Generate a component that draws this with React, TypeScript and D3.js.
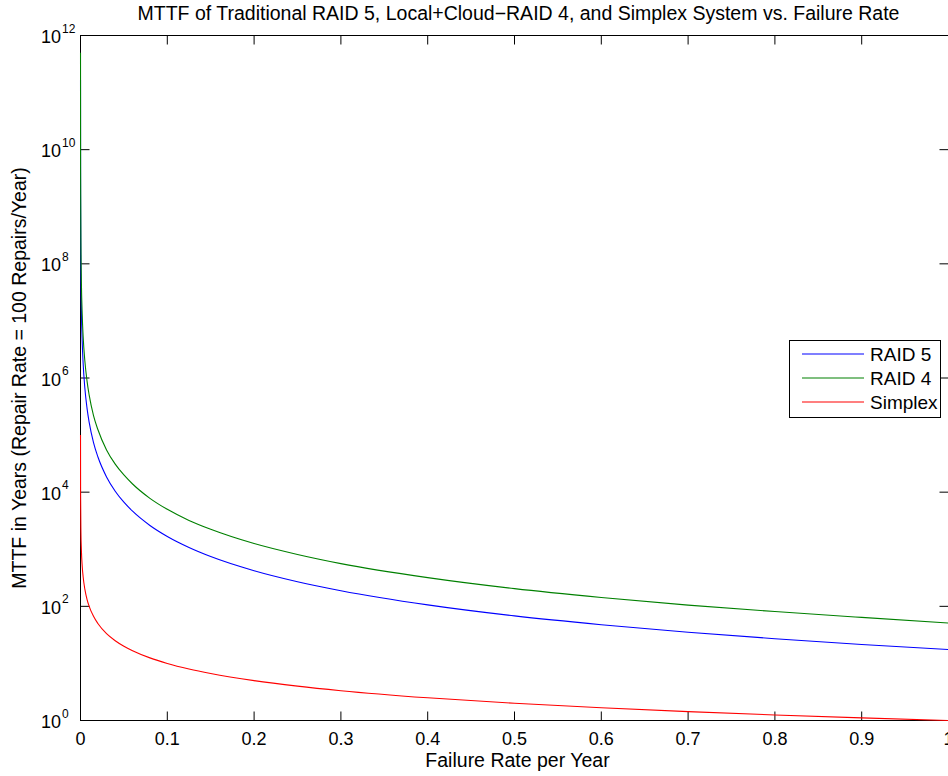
import React from "react";
import { scaleLinear, scaleLog, line, curveMonotoneX } from "d3";

// failure rate per year (x) and MTTF in years
const failureRate = [
  0.00001, 0.0001, 0.0005, 0.001, 0.002, 0.003, 0.005, 0.0075, 0.01, 0.015,
  0.02, 0.03, 0.04, 0.05, 0.06, 0.08, 0.1, 0.125, 0.15, 0.2, 0.25, 0.3, 0.4,
  0.5, 0.6, 0.7, 0.8, 0.9, 1.0,
];
const raid5 = [
  1.67e11, 1.67e9, 6.67e7, 1.67e7, 4.17e6, 1.85e6, 6.67e5, 2.97e5, 1.67e5,
  7.41e4, 4.17e4, 1.85e4, 1.04e4, 6680, 4640, 2610, 1675, 1075, 746, 421, 270,
  188, 106, 68, 47.7, 35.2, 27.1, 21.5, 17.5,
];
const raid4 = [
  5e11, 5e9, 2e8, 5e7, 1.25e7, 5.5e6, 2e6, 8.9e5, 5e5, 2.2e5, 1.25e5, 5.5e4,
  3.1e4, 2e4, 1.39e4, 7800, 5000, 3200, 2240, 1260, 810, 560, 318, 204, 143,
  105, 81, 64, 51,
];
const simplex = [
  1e5, 1e4, 2000, 1000, 500, 333, 200, 133, 100, 66.7, 50, 33.3, 25, 20, 16.7,
  12.5, 10, 8, 6.67, 5, 4, 3.33, 2.5, 2, 1.67, 1.43, 1.25, 1.11, 1.0,
];
const seriesNames = ["RAID 5", "RAID 4", "Simplex"];
const seriesColors = ["#0000ff", "#008000", "#ff0000"];
const xTicks = [0, 0.1, 0.2, 0.3, 0.4, 0.5, 0.6, 0.7, 0.8, 0.9, 1];
const yExponents = [0, 2, 4, 6, 8, 10, 12];

const left = 80.5;
const right = 948.5;
const top = 35.5;
const bottom = 720.5;
const tickLen = 9;
const font = "Liberation Sans, Arial, sans-serif";

export default function App() {
  const x = scaleLinear().domain([0, 1]).range([left, right]);
  const y = scaleLog().domain([1, 1e12]).range([bottom, top]);
  const gen = line<number>()
    .x((_, i) => x(failureRate[i]))
    .y((d) => y(d))
    .curve(curveMonotoneX);
  const allSeries = [raid5, raid4, simplex];
  const midX = (left + right) / 2;
  const midY = (top + bottom) / 2;

  return (
    <svg
      width={948}
      height={776}
      style={{ position: "absolute", left: 0, top: 0, background: "#fff" }}
      fontFamily={font}
    >
      <defs>
        <clipPath id="plot">
          <rect x={left - 1} y={top - 1} width={right - left + 2} height={bottom - top + 2} />
        </clipPath>
      </defs>
      <rect x={0} y={0} width={948} height={776} fill="#fff" />

      {/* axes box */}
      <rect
        x={left}
        y={top}
        width={right - left}
        height={bottom - top}
        fill="none"
        stroke="#000"
        strokeWidth={1}
      />

      {xTicks.map((t) => (
        <g key={"x" + t}>
          <line x1={x(t)} x2={x(t)} y1={bottom} y2={bottom - tickLen} stroke="#000" />
          <line x1={x(t)} x2={x(t)} y1={top} y2={top + tickLen} stroke="#000" />
          <text x={x(t)} y={745} fontSize={18} textAnchor="middle" fill="#000">
            {String(t)}
          </text>
        </g>
      ))}

      {yExponents.map((e) => {
        const yy = y(Math.pow(10, e));
        return (
          <g key={"y" + e}>
            <line x1={left} x2={left + tickLen} y1={yy} y2={yy} stroke="#000" />
            <line x1={right} x2={right - tickLen} y1={yy} y2={yy} stroke="#000" />
            <text x={61} y={yy + 7.5} fontSize={18} textAnchor="end" fill="#000">
              10
            </text>
            <text x={62} y={yy - 3} fontSize={12} fill="#000">
              {e}
            </text>
          </g>
        );
      })}

      <g clipPath="url(#plot)">
        {allSeries.map((s, k) => (
          <path
            key={seriesNames[k]}
            d={gen(s) || ""}
            fill="none"
            stroke={seriesColors[k]}
            strokeWidth={1.1}
          />
        ))}
      </g>

      <text x={midX + 4} y={20} fontSize={19.5} textAnchor="middle" fill="#000">
        MTTF of Traditional RAID 5, Local+Cloud−RAID 4, and Simplex System vs. Failure Rate
      </text>
      <text x={midX + 3} y={767} fontSize={19.5} textAnchor="middle" fill="#000">
        Failure Rate per Year
      </text>
      <text
        transform={`translate(26,${midY}) rotate(-90)`}
        fontSize={19.5}
        textAnchor="middle"
        fill="#000"
      >
        MTTF in Years (Repair Rate = 100 Repairs/Year)
      </text>

      {/* legend */}
      <g>
        <rect x={789.5} y={340.5} width={151} height={77} fill="#fff" stroke="#000" />
        {seriesNames.map((n, k) => (
          <g key={n}>
            <line
              x1={802}
              x2={864}
              y1={354 + k * 24}
              y2={354 + k * 24}
              stroke={seriesColors[k]}
              strokeWidth={1.1}
            />
            <text x={870} y={361 + k * 24} fontSize={19} fill="#000">
              {n}
            </text>
          </g>
        ))}
      </g>
    </svg>
  );
}
